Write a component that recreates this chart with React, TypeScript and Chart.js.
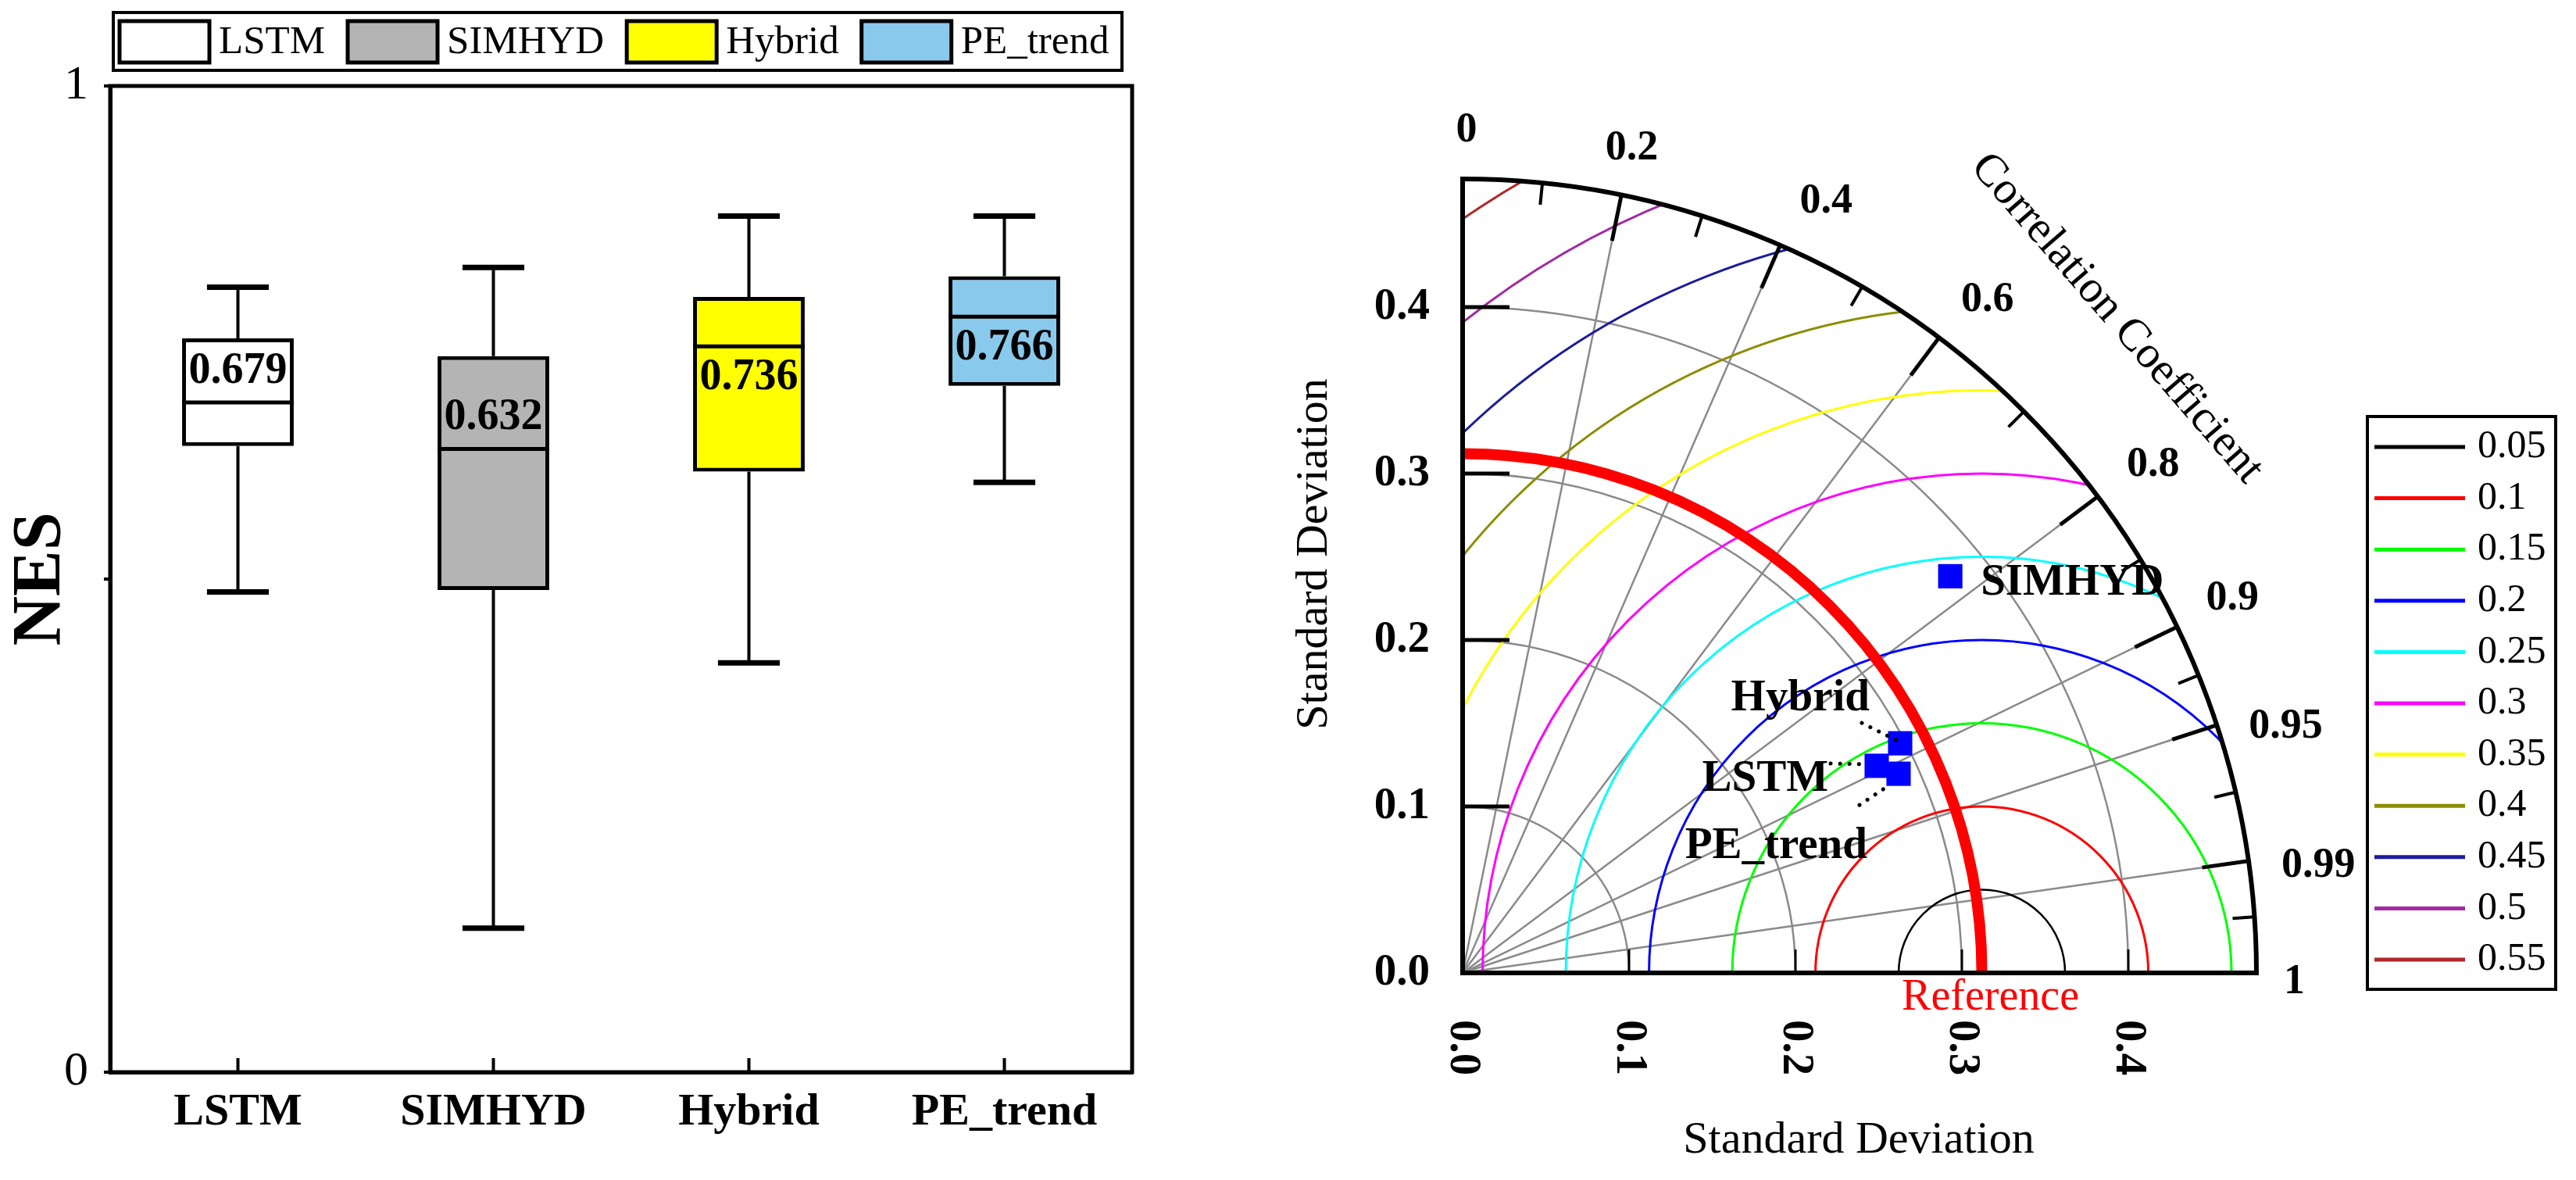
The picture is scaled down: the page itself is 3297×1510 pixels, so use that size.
import React, { useEffect, useRef } from "react";
import { Chart, registerables } from "chart.js";

Chart.register(...registerables);

const SERIF = '"Liberation Serif", "Times New Roman", Times, serif';

// ---------- Box plot (NES) ----------
const categories = ["LSTM", "SIMHYD", "Hybrid", "PE_trend"];
const nesMin = [0.487, 0.146, 0.415, 0.598];
const nesQ1 = [0.635, 0.489, 0.609, 0.696];
const nesMedian = [0.679, 0.632, 0.736, 0.766];
const nesQ3 = [0.744, 0.726, 0.786, 0.807];
const nesMax = [0.796, 0.816, 0.868, 0.868];
const boxColors = ["#FFFFFF", "#B4B4B4", "#FFFF00", "#89C9EC"];
const nesTickValues = [0, 0.5, 1];
const nesTickLabels = ["0", "", "1"];

// ---------- Taylor diagram ----------
const models = ["LSTM", "SIMHYD", "Hybrid", "PE_trend"];
const modelStd = [0.2782, 0.3777, 0.2969, 0.288];
const modelCorr = [0.8944, 0.7758, 0.8855, 0.9096];
const referenceStd = 0.312;
const stdAxisMax = 0.477;
const stdTickValues = [0, 0.1, 0.2, 0.3, 0.4];
const stdTickLabels = ["0.0", "0.1", "0.2", "0.3", "0.4"];
const corrTickValues = [0, 0.2, 0.4, 0.6, 0.8, 0.9, 0.95, 0.99, 1];
const corrTickLabels = ["0", "0.2", "0.4", "0.6", "0.8", "0.9", "0.95", "0.99", "1"];
const rmsLevels = [0.05, 0.1, 0.15, 0.2, 0.25, 0.3, 0.35, 0.4, 0.45, 0.5, 0.55];
const rmsLabels = ["0.05", "0.1", "0.15", "0.2", "0.25", "0.3", "0.35", "0.4", "0.45", "0.5", "0.55"];
const rmsColors = [
  "#000000", "#FF0000", "#00FF00", "#0000FF", "#00FFFF", "#FF00FF",
  "#FFFF00", "#8C8C00", "#1C1C9C", "#A428A4", "#B02828",
];

// label placement styles (not data)
const boxLabelShift = [-40, -40, 40, 40];
const corrLabelNudge = [[5, -7], [1, 1], [32, 6], [19, 9], [11, 5], [3, -3], [5, 30], [4, 19], [-2, 12]];
const pointLabelStyle: any[] = [
  { align: "right", dx: -62, dy: 32, lead: [[-59, -3], [-17, -2]] },
  { align: "left", dx: 39, dy: 24, lead: null },
  { align: "right", dx: -39, dy: -42, lead: [[-49, -26], [-5, -4]] },
  { align: "right", dx: -40, dy: 108, lead: [[-50, 40], [-17, 18]] },
];

const boxPlugin = {
  id: "boxExtras",
  beforeDatasetsDraw(chart: any) {
    const { ctx, scales } = chart;
    const x = scales.x;
    const y = scales.y;
    const catW = x.width / categories.length;
    ctx.save();
    ctx.strokeStyle = "#000";
    ctx.lineCap = "butt";
    categories.forEach((_, i) => {
      const cx = x.getPixelForValue(i);
      ctx.lineWidth = 4;
      ctx.beginPath();
      ctx.moveTo(cx, y.getPixelForValue(nesQ3[i]));
      ctx.lineTo(cx, y.getPixelForValue(nesMax[i]));
      ctx.moveTo(cx, y.getPixelForValue(nesQ1[i]));
      ctx.lineTo(cx, y.getPixelForValue(nesMin[i]));
      ctx.stroke();
      const hw = catW * 0.121;
      ctx.lineWidth = 7;
      [nesMax[i], nesMin[i]].forEach((v) => {
        const yy = y.getPixelForValue(v);
        ctx.beginPath();
        ctx.moveTo(cx - hw, yy);
        ctx.lineTo(cx + hw, yy);
        ctx.stroke();
      });
    });
    ctx.restore();
  },
  afterDatasetsDraw(chart: any) {
    const { ctx, scales, chartArea } = chart;
    const x = scales.x;
    const y = scales.y;
    const meta = chart.getDatasetMeta(0);
    ctx.save();
    ctx.strokeStyle = "#000";
    categories.forEach((_, i) => {
      const cx = x.getPixelForValue(i);
      const bw = meta.data[i].width;
      const my = y.getPixelForValue(nesMedian[i]);
      ctx.lineWidth = 5;
      ctx.beginPath();
      ctx.moveTo(cx - bw / 2, my);
      ctx.lineTo(cx + bw / 2, my);
      ctx.stroke();
      ctx.fillStyle = "#000";
      ctx.font = `bold 56px ${SERIF}`;
      ctx.textAlign = "center";
      ctx.textBaseline = "middle";
      ctx.fillText(nesMedian[i].toFixed(3), cx, my + boxLabelShift[i]);
      // inward tick
      ctx.lineWidth = 4;
      ctx.beginPath();
      ctx.moveTo(cx, chartArea.bottom);
      ctx.lineTo(cx, chartArea.bottom - 18);
      ctx.stroke();
    });
    ctx.lineWidth = 5;
    ctx.strokeRect(chartArea.left, chartArea.top, chartArea.right - chartArea.left, chartArea.bottom - chartArea.top);
    ctx.restore();
  },
  afterDraw(chart: any) {
    const { ctx } = chart;
    ctx.save();
    ctx.strokeStyle = "#000";
    ctx.lineWidth = 4;
    ctx.strokeRect(145, 16, 1291, 74);
    ctx.font = `51px ${SERIF}`;
    let xx = 153;
    categories.forEach((c, i) => {
      ctx.fillStyle = boxColors[i];
      ctx.fillRect(xx, 27, 115, 53);
      ctx.lineWidth = 5;
      ctx.strokeRect(xx, 27, 115, 53);
      ctx.fillStyle = "#000";
      ctx.textAlign = "left";
      ctx.textBaseline = "alphabetic";
      ctx.fillText(c, xx + 127, 68);
      xx += 127 + ctx.measureText(c).width + 29;
    });
    ctx.restore();
  },
};

const MAJOR = 60;
const MINOR = 28;

const taylorPlugin = {
  id: "taylorGrid",
  beforeDatasetsDraw(chart: any) {
    const { ctx, scales } = chart;
    const x = scales.x;
    const y = scales.y;
    const ox = x.getPixelForValue(0);
    const oy = y.getPixelForValue(0);
    const k = x.getPixelForValue(1) - ox;
    const R = stdAxisMax * k;
    ctx.save();
    // grey std arcs
    ctx.strokeStyle = "#8a8a8a";
    ctx.lineWidth = 2.5;
    stdTickValues.filter((s) => s > 0).forEach((s) => {
      ctx.beginPath();
      ctx.arc(ox, oy, s * k, -Math.PI / 2, 0);
      ctx.stroke();
    });
    // grey radial lines at major correlations
    corrTickValues.filter((c) => c > 0 && c < 1).forEach((c) => {
      const t = Math.acos(c);
      const r = R - MAJOR;
      ctx.beginPath();
      ctx.moveTo(ox, oy);
      ctx.lineTo(ox + r * Math.cos(t), oy - r * Math.sin(t));
      ctx.stroke();
    });
    // centred RMS arcs
    ctx.save();
    ctx.beginPath();
    ctx.moveTo(ox, oy);
    ctx.arc(ox, oy, R, -Math.PI / 2, 0);
    ctx.closePath();
    ctx.clip();
    const rx = x.getPixelForValue(referenceStd);
    rmsLevels.forEach((lv, i) => {
      ctx.strokeStyle = rmsColors[i];
      ctx.lineWidth = i === 0 ? 2.5 : 3;
      ctx.beginPath();
      ctx.arc(rx, oy, lv * k, Math.PI, 2 * Math.PI);
      ctx.stroke();
    });
    ctx.restore();
    // reference std arc
    ctx.strokeStyle = "#FF0000";
    ctx.lineWidth = 14;
    ctx.beginPath();
    ctx.arc(ox, oy, referenceStd * k, -Math.PI / 2, 0);
    ctx.stroke();
    // axes
    ctx.strokeStyle = "#000";
    ctx.lineWidth = 6;
    ctx.lineCap = "square";
    ctx.beginPath();
    ctx.moveTo(ox, oy - R);
    ctx.lineTo(ox, oy);
    ctx.lineTo(ox + R, oy);
    ctx.stroke();
    ctx.lineCap = "butt";
    ctx.beginPath();
    ctx.arc(ox, oy, R, -Math.PI / 2, 0);
    ctx.stroke();
    // std ticks on the y axis
    ctx.lineWidth = 5;
    stdTickValues.forEach((s) => {
      const yy = y.getPixelForValue(s);
      ctx.beginPath();
      ctx.moveTo(ox, yy);
      ctx.lineTo(ox + 60, yy);
      ctx.stroke();
    });
    // std ticks on the x axis
    ctx.lineWidth = 3;
    stdTickValues.filter((s) => s > 0).forEach((s) => {
      const xx = x.getPixelForValue(s);
      ctx.beginPath();
      ctx.moveTo(xx, oy);
      ctx.lineTo(xx, oy - 30);
      ctx.stroke();
    });
    // correlation ticks
    const angles = corrTickValues.map((c) => Math.acos(c));
    ctx.lineWidth = 5;
    angles.forEach((t) => {
      ctx.beginPath();
      ctx.moveTo(ox + R * Math.cos(t), oy - R * Math.sin(t));
      ctx.lineTo(ox + (R - MAJOR) * Math.cos(t), oy - (R - MAJOR) * Math.sin(t));
      ctx.stroke();
    });
    ctx.lineWidth = 4;
    for (let i = 0; i < angles.length - 1; i++) {
      const t = (angles[i] + angles[i + 1]) / 2;
      ctx.beginPath();
      ctx.moveTo(ox + R * Math.cos(t), oy - R * Math.sin(t));
      ctx.lineTo(ox + (R - MINOR) * Math.cos(t), oy - (R - MINOR) * Math.sin(t));
      ctx.stroke();
    }
    ctx.restore();
  },
  afterDatasetsDraw(chart: any) {
    const { ctx, scales } = chart;
    const x = scales.x;
    const y = scales.y;
    const ox = x.getPixelForValue(0);
    const oy = y.getPixelForValue(0);
    const k = x.getPixelForValue(1) - ox;
    const R = stdAxisMax * k;
    ctx.save();
    ctx.fillStyle = "#000";
    // y tick labels
    ctx.font = `bold 57px ${SERIF}`;
    ctx.textAlign = "right";
    ctx.textBaseline = "middle";
    stdTickValues.forEach((s, i) => ctx.fillText(stdTickLabels[i], ox - 42, y.getPixelForValue(s)));
    // x tick labels (rotated)
    stdTickValues.forEach((s, i) => {
      ctx.save();
      ctx.translate(x.getPixelForValue(s), oy + 60);
      ctx.rotate(Math.PI / 2);
      ctx.textAlign = "left";
      ctx.textBaseline = "middle";
      ctx.fillText(stdTickLabels[i], 0, 0);
      ctx.restore();
    });
    // correlation labels
    ctx.font = `bold 54px ${SERIF}`;
    ctx.textAlign = "center";
    ctx.textBaseline = "middle";
    corrTickValues.forEach((c, i) => {
      const t = Math.acos(c);
      const w = ctx.measureText(corrTickLabels[i]).width;
      const h = 0.676 * 54;
      const r = R + 37 + (h / 2) * Math.sin(t) + (w / 2) * Math.cos(t);
      const nd = corrLabelNudge[i];
      ctx.fillText(corrTickLabels[i], ox + r * Math.cos(t) + nd[0], oy - r * Math.sin(t) + nd[1]);
    });
    // titles
    ctx.font = `58px ${SERIF}`;
    ctx.textAlign = "center";
    ctx.textBaseline = "middle";
    ctx.fillText("Standard Deviation", ox + 507, oy + 215);
    ctx.save();
    ctx.translate(ox - 189, oy - 536);
    ctx.rotate(-Math.PI / 2);
    ctx.fillText("Standard Deviation", 0, 0);
    ctx.restore();
    ctx.save();
    const ta = Math.PI / 4;
    ctx.translate(ox + (R + 168) * Math.cos(ta), oy - (R + 168) * Math.sin(ta));
    ctx.rotate((49 * Math.PI) / 180);
    ctx.fillText("Correlation Coefficient", 0, 0);
    ctx.restore();
    // reference label
    ctx.fillStyle = "#FF0000";
    ctx.font = `56px ${SERIF}`;
    ctx.fillText("Reference", x.getPixelForValue(referenceStd) + 11, oy + 32);
    // model labels
    const meta = chart.getDatasetMeta(0);
    ctx.font = `bold 57px ${SERIF}`;
    ctx.textBaseline = "alphabetic";
    models.forEach((m, i) => {
      const p = meta.data[i];
      const st = pointLabelStyle[i];
      ctx.fillStyle = "#000";
      ctx.textAlign = st.align;
      ctx.fillText(m, p.x + st.dx, p.y + st.dy);
      if (st.lead) {
        ctx.save();
        ctx.strokeStyle = "#000";
        ctx.lineWidth = 5;
        ctx.lineCap = "round";
        ctx.setLineDash([0.1, 12]);
        ctx.beginPath();
        ctx.moveTo(p.x + st.lead[0][0], p.y + st.lead[0][1]);
        ctx.lineTo(p.x + st.lead[1][0], p.y + st.lead[1][1]);
        ctx.stroke();
        ctx.restore();
      }
    });
    // RMS legend
    const lx = ox + 1158;
    const ly = 533;
    ctx.strokeStyle = "#000";
    ctx.lineWidth = 4;
    ctx.strokeRect(lx, ly, 241, 733);
    ctx.font = `50px ${SERIF}`;
    ctx.textAlign = "left";
    ctx.textBaseline = "middle";
    rmsLevels.forEach((_, i) => {
      const yy = ly + 39 + i * 65.6;
      ctx.strokeStyle = rmsColors[i];
      ctx.lineWidth = 5;
      ctx.beginPath();
      ctx.moveTo(lx + 9, yy);
      ctx.lineTo(lx + 125, yy);
      ctx.stroke();
      ctx.fillStyle = "#000";
      ctx.fillText(rmsLabels[i], lx + 141, yy);
    });
    ctx.restore();
  },
};

export default function App() {
  const boxRef = useRef<HTMLCanvasElement>(null);
  const taylorRef = useRef<HTMLCanvasElement>(null);

  useEffect(() => {
    const boxChart = new Chart(boxRef.current as HTMLCanvasElement, {
      type: "bar",
      data: {
        labels: categories,
        datasets: [
          {
            data: categories.map((_, i) => [nesQ1[i], nesQ3[i]]) as any,
            backgroundColor: boxColors,
            borderColor: "#000",
            borderWidth: 5,
            borderSkipped: false,
            barPercentage: 0.437,
            categoryPercentage: 1,
          },
        ],
      },
      options: {
        animation: false,
        responsive: false,
        devicePixelRatio: 1,
        layout: { padding: { top: 110, right: 201, left: 0, bottom: 0 } },
        plugins: { legend: { display: false }, tooltip: { enabled: false } },
        scales: {
          x: {
            grid: { display: false, drawTicks: false },
            border: { display: true, color: "#000", width: 5 },
            ticks: { color: "#000", padding: 17, font: { family: SERIF, size: 58, weight: "bold" } },
            afterFit: (s: any) => {
              s.height = 138;
            },
          },
          y: {
            min: 0,
            max: 1,
            afterBuildTicks: (s: any) => {
              s.ticks = nesTickValues.map((v) => ({ value: v }));
            },
            ticks: {
              color: "#000",
              padding: 20,
              font: { family: SERIF, size: 62 },
              callback: (v: any) => nesTickLabels[nesTickValues.indexOf(Number(v))] ?? "",
            },
            grid: { drawOnChartArea: false, drawTicks: true, tickLength: 8, color: "#000", lineWidth: 4 },
            border: { display: true, color: "#000", width: 5 },
            title: {
              display: true,
              text: "NES",
              color: "#000",
              padding: 0,
              font: { family: SERIF, size: 88, weight: "bold" },
            },
            afterFit: (s: any) => {
              s.width = 141;
            },
          },
        },
      } as any,
      plugins: [boxPlugin],
    });

    const taylorChart = new Chart(taylorRef.current as HTMLCanvasElement, {
      type: "scatter",
      data: {
        datasets: [
          {
            data: models.map((_, i) => ({
              x: modelStd[i] * modelCorr[i],
              y: modelStd[i] * Math.sqrt(1 - modelCorr[i] * modelCorr[i]),
            })),
            pointStyle: "rect",
            pointRadius: 22,
            pointBorderWidth: 0,
            backgroundColor: "#0000FF",
            borderColor: "#0000FF",
          },
        ],
      },
      options: {
        animation: false,
        responsive: false,
        devicePixelRatio: 1,
        layout: { padding: { left: 222, right: 409, top: 229, bottom: 265 } },
        plugins: { legend: { display: false }, tooltip: { enabled: false } },
        scales: {
          x: { type: "linear", min: 0, max: stdAxisMax, display: false },
          y: { type: "linear", min: 0, max: stdAxisMax, display: false },
        },
      } as any,
      plugins: [taylorPlugin],
    });

    return () => {
      boxChart.destroy();
      taylorChart.destroy();
    };
  }, []);

  return (
    <div style={{ position: "absolute", left: 0, top: 0, width: 3297, height: 1510, background: "#fff" }}>
      <canvas
        ref={boxRef}
        width={1650}
        height={1510}
        style={{ position: "absolute", left: 0, top: 0, width: 1650, height: 1510 }}
      />
      <canvas
        ref={taylorRef}
        width={1647}
        height={1510}
        style={{ position: "absolute", left: 1650, top: 0, width: 1647, height: 1510 }}
      />
    </div>
  );
}
